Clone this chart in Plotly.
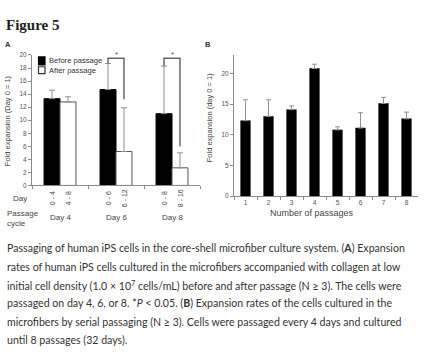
import plotly.graph_objects as go

W, H = 424, 362
def px(x): return x / W
def py(y): return 1 - y / H

# ---------- Data ----------
groups = ["Day 4", "Day 6", "Day 8"]
day_before = ["0 - 4", "0 - 6", "0 - 8"]
day_after = ["4 - 8", "6 - 12", "8 - 16"]
before_vals = [13.3, 14.7, 11.0]
before_err = [1.3, 4.0, 7.3]
after_vals = [12.8, 5.2, 2.7]
after_err = [0.8, 6.7, 2.3]
series_names = ["Before passage", "After passage"]
sig_groups = [1, 2]
sig_top = [19.5, 19.5]
sig_right_bottom = [13.2, 6.0]

passages = ["1", "2", "3", "4", "5", "6", "7", "8"]
passage_vals = [12.3, 13.0, 14.1, 20.8, 10.8, 11.1, 15.1, 12.6]
passage_err = [3.4, 2.7, 0.6, 0.7, 0.5, 2.5, 1.0, 1.1]

caption_lines = [
    "Passaging of human iPS cells in the core-shell microfiber culture system. (<b>A</b>) Expansion",
    "rates of human iPS cells cultured in the microfibers accompanied with collagen at low",
    "initial cell density (1.0 × 10<sup>7</sup> cells/mL) before and after passage (N ≥ 3). The cells were",
    "passaged on day 4, 6, or 8. *<i>P</i> < 0.05. (<b>B</b>) Expansion rates of the cells cultured in the",
    "microfibers by serial passaging (N ≥ 3). Cells were passaged every 4 days and cultured",
    "until 8 passages (32 days).",
]

BW = 0.285
AX = "#8a8a8a"
TXT = "#444"
CF = "Liberation Sans, Arial, sans-serif"

fig = go.Figure()
fig.add_trace(go.Bar(
    x=groups, y=before_vals, name=series_names[0], offset=-BW, width=BW,
    marker=dict(color="black", line=dict(color="black", width=1)),
    error_y=dict(type="data", array=before_err, arrayminus=[0] * 3, symmetric=False,
                 color="#909090", thickness=1, width=3),
    xaxis="x", yaxis="y", showlegend=False))
fig.add_trace(go.Bar(
    x=groups, y=after_vals, name=series_names[1], offset=0, width=BW,
    marker=dict(color="white", line=dict(color="#555", width=1)),
    error_y=dict(type="data", array=after_err, arrayminus=[0] * 3, symmetric=False,
                 color="#909090", thickness=1, width=3),
    xaxis="x", yaxis="y", showlegend=False))
fig.add_trace(go.Bar(
    x=passages, y=passage_vals, width=0.42,
    marker=dict(color="black", line=dict(color="black", width=0.5)),
    error_y=dict(type="data", array=passage_err, arrayminus=[0] * 8, symmetric=False,
                 color="#909090", thickness=1, width=2.5),
    xaxis="x2", yaxis="y2", showlegend=False))

shapes = []
annotations = []

def note(text, x, y, size, xref="paper", yref="paper", xanchor="center", yanchor="middle",
         color=TXT, family=CF, **kw):
    annotations.append(dict(text=text, x=x, y=y, xref=xref, yref=yref, xanchor=xanchor,
                            yanchor=yanchor, showarrow=False,
                            font=dict(size=size, color=color, family=family), **kw))

# significance brackets
for g, top, rb in zip(sig_groups, sig_top, sig_right_bottom):
    lx, rx = g - BW / 2, g + BW / 2
    lb = before_vals[g] + before_err[g]
    shapes.append(dict(type="path", xref="x", yref="y",
                       path=f"M{lx},{lb} L{lx},{top} L{rx},{top} L{rx},{rb}",
                       line=dict(color="#666", width=1.5)))
    note("*", g, top + 0.5, 8, xref="x", yref="y")

# manual legend
leg = [(54, 62, "black", "black"), (64, 71, "white", "#333")]
for (y0, y1, fc, lc), name in zip(leg, series_names):
    shapes.append(dict(type="rect", xref="paper", yref="paper",
                       x0=px(38.5), x1=px(45), y0=py(y1), y1=py(y0),
                       fillcolor=fc, line=dict(color=lc, width=1.2)))
    note(name, px(47), py((y0 + y1) / 2), 7.6, xanchor="left", color="#333")

# A x labels
for i in range(3):
    for off, lab in ((-BW / 2, day_before[i]), (BW / 2, day_after[i])):
        note(lab, i + off, py(198), 7, xref="x", textangle=-90)
    note(groups[i], i, py(218), 8, xref="x")

note("Day", px(19.5), py(198), 8)
note("Passage<br>cycle", px(5), py(219), 8, xanchor="left", align="left")
note("Fold expansion (Day 0 = 1)", px(7.5), py(119), 7.5, textangle=-90)
note("Fold expansion (day 0 = 1)", px(209.5), py(116), 7.5, textangle=-90)
note("Number of passages", px(312), py(213.5), 9)
note("<b>A</b>", px(8), py(41), 7.5, color="#333")
note("<b>B</b>", px(207.5), py(41), 7.5, color="#333")
note("<b>Figure 5</b>", px(4), py(21), 15, xanchor="left", color="#222",
     family="Liberation Serif, serif")
for k, line in enumerate(caption_lines):
    note(line, px(4.5), py(249 + 18.8 * k), 10.6, xanchor="left", color="#333",
         family="Lato, sans-serif")

ax_common = dict(showline=True, linecolor=AX, linewidth=1, ticks="outside", tickcolor=AX,
                 ticklen=3, tickwidth=1, showgrid=False, zeroline=False,
                 tickfont=dict(size=6.5, color="#555", family=CF))

fig.update_layout(
    width=W, height=H, margin=dict(l=0, r=0, t=0, b=0),
    paper_bgcolor="white", plot_bgcolor="white", barmode="overlay",
    xaxis=dict(ax_common, domain=[px(32), px(200)], anchor="y", type="category",
               tickson="boundaries", showticklabels=False, range=[-0.5, 2.5]),
    yaxis=dict(ax_common, domain=[py(185), py(52)], anchor="x", range=[0, 20], dtick=2),
    xaxis2=dict(ax_common, domain=[px(234), px(418)], anchor="y2", type="category",
                tickson="boundaries", range=[-0.5, 7.5]),
    yaxis2=dict(ax_common, domain=[py(196), py(52)], anchor="x2", range=[0, 23],
                tickvals=[0, 5, 10, 15, 20]),
    shapes=shapes, annotations=annotations,
)
fig.write_html("out.html", config={"displayModeBar": False},
               post_script="document.body.style.margin='0';document.body.style.overflow='hidden';")
